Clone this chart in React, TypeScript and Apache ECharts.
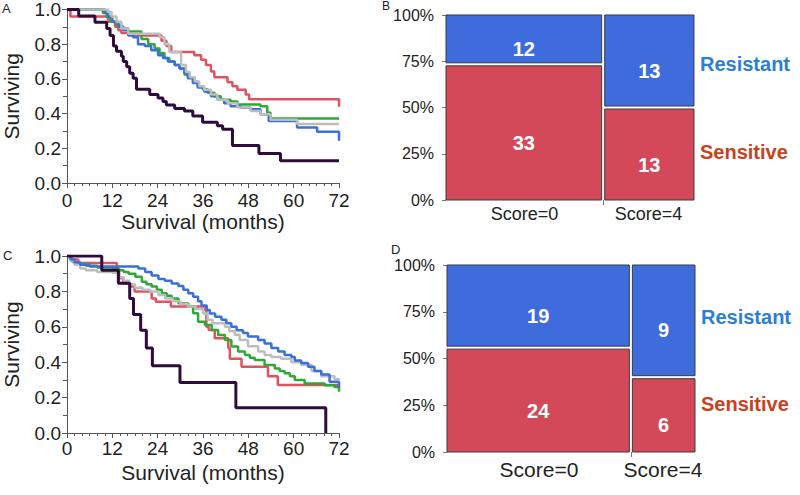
import React, { useEffect, useRef } from "react";
import * as echarts from "echarts";

const FONT = "Liberation Sans, Arial, Helvetica, sans-serif";

// ---------- Kaplan-Meier data: [months, surviving] ----------
const kmA_red: number[][] = [[0,1],[0.9,0.96],[10.9,0.93],[12.7,0.9],[13.6,0.88],[14.4,0.865],[16.2,0.855],[17.1,0.85],[25,0.82],[26.3,0.79],[27.6,0.755],[33.7,0.737],[35.5,0.71],[36.8,0.68],[38.1,0.642],[39,0.61],[42.5,0.58],[43.8,0.557],[45.1,0.538],[47.3,0.51],[48.2,0.483],[72,0.44]];
const kmA_green: number[][] = [[0,1],[9.5,0.98],[10.5,0.955],[11.5,0.93],[13,0.91],[14.5,0.89],[16.2,0.873],[19.7,0.83],[21.5,0.8],[23.2,0.775],[24.5,0.75],[25.8,0.72],[27.1,0.7],[28.5,0.68],[29.8,0.66],[31.1,0.625],[32,0.61],[33.7,0.585],[34.6,0.557],[35.9,0.54],[37.2,0.52],[39,0.5],[40.7,0.48],[43.3,0.47],[45.1,0.453],[51.2,0.443],[53,0.405],[53.9,0.372],[72,0.372]];
const kmA_blue: number[][] = [[0,1],[10.1,0.98],[10.9,0.96],[12,0.93],[13.6,0.9],[14.9,0.88],[16.2,0.85],[17.5,0.84],[18.8,0.8],[20.6,0.79],[22.3,0.765],[24.1,0.737],[25.4,0.72],[26.7,0.7],[28.5,0.68],[29.8,0.66],[31.1,0.633],[32,0.604],[33.3,0.576],[34.6,0.55],[36.3,0.528],[38.1,0.5],[39.8,0.48],[41.6,0.46],[43.3,0.443],[45.9,0.434],[48.6,0.425],[51.2,0.396],[53.4,0.358],[60.9,0.32],[66.2,0.295],[72,0.244]];
const kmA_gray: number[][] = [[0,1],[10.9,0.985],[11.8,0.96],[13.1,0.93],[14.4,0.89],[16.2,0.86],[24.5,0.84],[25.8,0.8],[27.1,0.755],[30.2,0.68],[31.5,0.64],[32.5,0.61],[33.8,0.585],[35,0.557],[36.3,0.538],[38.1,0.51],[39.8,0.48],[42.5,0.46],[45.1,0.435],[48.6,0.415],[51.2,0.396],[53.9,0.365],[60.9,0.34],[72,0.34]];
const kmA_purple: number[][] = [[0,1],[3.1,0.963],[7.4,0.926],[10.5,0.89],[11.4,0.85],[12.3,0.79],[13.1,0.76],[14.4,0.73],[14.9,0.7],[15.8,0.67],[16.6,0.633],[17.5,0.604],[18.4,0.54],[21.9,0.51],[24.1,0.49],[25.4,0.47],[26.3,0.45],[28.5,0.43],[31.1,0.415],[33.3,0.386],[35.9,0.35],[39.8,0.33],[41.2,0.31],[43.8,0.216],[50.8,0.17],[56.5,0.128],[72,0.128]];

const kmC_red: number[][] = [[0,1],[1.2,0.98],[3,0.96],[13.2,0.93],[13.8,0.875],[14.9,0.845],[16.6,0.827],[17.9,0.8],[22.4,0.76],[23.5,0.742],[27.5,0.714],[36.5,0.695],[36.9,0.6],[37.5,0.582],[39.1,0.535],[42.7,0.48],[43.1,0.42],[46.2,0.375],[53.2,0.32],[55.8,0.271],[72,0.271]];
const kmC_green: number[][] = [[0,1],[0.8,0.98],[1.5,0.965],[3,0.955],[5,0.945],[8,0.935],[12,0.93],[13.6,0.92],[15,0.91],[16.3,0.9],[18.1,0.883],[19.8,0.855],[21,0.84],[22.4,0.827],[23.8,0.81],[25.1,0.79],[26.4,0.775],[27.7,0.76],[29.5,0.733],[32.1,0.714],[33.4,0.676],[34.7,0.629],[36.5,0.61],[38.3,0.582],[40,0.554],[41.8,0.525],[43.5,0.488],[45.3,0.46],[47.1,0.44],[48.4,0.425],[49.7,0.412],[52.3,0.384],[55,0.365],[56.3,0.35],[57.6,0.337],[59,0.32],[60.3,0.3],[62.9,0.28],[68.2,0.27],[70.8,0.26],[72,0.233]];
const kmC_blue: number[][] = [[0,1],[1,0.98],[2,0.965],[3.5,0.95],[6,0.94],[18.9,0.93],[20.7,0.91],[22.4,0.89],[24.2,0.87],[25.9,0.86],[27.7,0.845],[29.5,0.83],[30.8,0.81],[32.1,0.79],[33.4,0.77],[34.7,0.745],[35.6,0.72],[37,0.695],[37.8,0.675],[39.2,0.657],[40.9,0.64],[42.2,0.62],[43.5,0.6],[44.9,0.58],[46.6,0.565],[47.9,0.545],[50.6,0.525],[52.3,0.505],[54.1,0.48],[55.9,0.46],[57.6,0.44],[59.4,0.43],[60.3,0.41],[62,0.395],[63.8,0.375],[65.5,0.35],[67.3,0.33],[69.5,0.29],[72,0.255]];
const kmC_gray: number[][] = [[0,1],[1,0.97],[2,0.95],[3.5,0.93],[5,0.92],[8,0.91],[12,0.905],[13.5,0.88],[15,0.86],[16.5,0.84],[18,0.82],[20,0.81],[22,0.8],[24.2,0.78],[26,0.76],[28,0.745],[30,0.73],[32,0.715],[34,0.7],[36,0.675],[37.2,0.64],[38.5,0.62],[41.8,0.6],[43,0.575],[44.4,0.555],[45.7,0.525],[47.9,0.49],[50.6,0.46],[52.3,0.44],[54.1,0.43],[56.7,0.42],[59.4,0.4],[62,0.385],[64.7,0.35],[67.3,0.32],[70.8,0.305],[72,0.3]];
const kmC_purple: number[][] = [[0,1],[9.2,0.92],[13.6,0.846],[16.6,0.76],[17.6,0.67],[19.5,0.58],[21,0.48],[22.6,0.38],[29.9,0.286],[44.7,0.143],[68.5,0]];

// ---------- Mosaic data ----------
const scoreLabels = ["Score=0", "Score=4"];
const resistantB = [12, 13];
const sensitiveB = [33, 13];
const resistantD = [19, 9];
const sensitiveD = [24, 6];

const COL = {
  red: "#e0525f",
  green: "#2ea836",
  blue: "#3b6fd9",
  gray: "#bdbdbd",
  purple: "#2e0b3c",
};
const BAR_BLUE = "#3e6cdc";
const BAR_RED = "#d4495a";

function mosaicData(res: number[], sen: number[]) {
  const totals = res.map((r, i) => r + sen[i]);
  const grand = totals.reduce((a, b) => a + b, 0);
  const items: number[][] = [];
  let cum = 0;
  const centers: number[] = [];
  const bounds: number[] = [];
  totals.forEach((t, i) => {
    const x0 = cum / grand;
    const x1 = (cum + t) / grand;
    const f = sen[i] / t;
    items.push([x0, x1, 0, f, sen[i], 0, i, totals.length]);
    items.push([x0, x1, f, 1, res[i], 1, i, totals.length]);
    centers.push((x0 + x1) / 2);
    if (i < totals.length - 1) bounds.push(x1);
    cum += t;
  });
  return { items, centers, bounds };
}

function kmSeries(data: number[][], color: string, idx: number, width = 2.5) {
  return {
    type: "line",
    step: "end",
    data,
    xAxisIndex: idx,
    yAxisIndex: idx,
    showSymbol: false,
    symbol: "none",
    lineStyle: { color, width },
    z: 3,
  };
}

function kmXAxis(idx: number, margin: number, nameGap: number) {
  return {
    gridIndex: idx,
    type: "value",
    min: 0,
    max: 72,
    interval: 12,
    axisLine: { show: true, lineStyle: { color: "#555", width: 1 } },
    axisTick: { show: true, length: 5, lineStyle: { color: "#555" } },
    minorTick: { show: true, splitNumber: 6, length: 3, lineStyle: { color: "#555" } },
    splitLine: { show: false },
    axisLabel: { fontSize: 19, color: "#222", margin, fontFamily: FONT },
    name: "Survival (months)",
    nameLocation: "middle",
    nameGap,
    nameTextStyle: { fontSize: 21, color: "#222", fontFamily: FONT },
  };
}

function kmYAxis(idx: number) {
  return {
    gridIndex: idx,
    type: "value",
    min: 0,
    max: 1,
    interval: 0.2,
    axisLine: { show: true, lineStyle: { color: "#555", width: 1 } },
    axisTick: { show: true, length: 5, lineStyle: { color: "#555" } },
    minorTick: { show: true, splitNumber: 2, length: 4, lineStyle: { color: "#555" } },
    splitLine: { show: false },
    axisLabel: { fontSize: 19, color: "#222", margin: 6, fontFamily: FONT, formatter: (v: number) => v.toFixed(1) },
    name: "Surviving",
    nameLocation: "middle",
    nameGap: 45,
    nameRotate: 90,
    nameTextStyle: { fontSize: 21, color: "#222", fontFamily: FONT },
  };
}

function mosaicXAxis(idx: number, centers: number[], bounds: number[], fontSize: number, margin: number) {
  return {
    gridIndex: idx,
    type: "value",
    min: 0,
    max: 1,
    axisLine: { show: false },
    axisTick: { show: true, length: 5, customValues: bounds, lineStyle: { color: "#777" } },
    splitLine: { show: false },
    axisLabel: {
      customValues: centers,
      fontSize,
      color: "#222",
      margin,
      fontFamily: FONT,
      formatter: (v: number) => {
        let best = 0;
        centers.forEach((c, i) => {
          if (Math.abs(c - v) < Math.abs(centers[best] - v)) best = i;
        });
        return scoreLabels[best];
      },
    },
  };
}

function mosaicYAxis(idx: number) {
  return {
    gridIndex: idx,
    type: "value",
    min: 0,
    max: 1,
    interval: 0.25,
    offset: 3,
    axisLine: { show: false },
    axisTick: { show: true, length: 4, lineStyle: { color: "#777" } },
    splitLine: { show: false },
    axisLabel: { fontSize: 16, lineHeight: 10, color: "#222", margin: 9, fontFamily: FONT, formatter: (v: number) => Math.round(v * 100) + "%" },
  };
}

function mosaicSeries(items: number[][], idx: number) {
  return {
    type: "custom",
    xAxisIndex: idx,
    yAxisIndex: idx,
    data: items,
    clip: false,
    renderItem: (params: any, api: any) => {
      const x0 = api.value(0), x1 = api.value(1), y0 = api.value(2), y1 = api.value(3);
      const count = api.value(4), kind = api.value(5), col = api.value(6), ncol = api.value(7);
      const p0 = api.coord([x0, y0]);
      const p1 = api.coord([x1, y1]);
      let left = p0[0], right = p1[0], bottom = p0[1], top = p1[1];
      if (col > 0) left += 1.5;
      if (col < ncol - 1) right -= 1.5;
      if (kind === 0) top += 1.5; else bottom -= 1.5;
      return {
        type: "group",
        children: [
          {
            type: "rect",
            shape: { x: left, y: top, width: right - left, height: bottom - top },
            style: { fill: kind === 0 ? BAR_RED : BAR_BLUE, stroke: "#3a3a3a", lineWidth: 1 },
          },
          {
            type: "text",
            style: {
              text: String(count),
              x: (left + right) / 2,
              y: (top + bottom) / 2,
              align: "center",
              verticalAlign: "top",
              fill: "#ffffff",
              fontSize: 20,
              fontWeight: "bold",
              fontFamily: FONT,
            },
          },
        ],
      };
    },
  };
}

export default function App() {
  const ref = useRef<HTMLDivElement>(null);
  useEffect(() => {
    document.body.style.margin = "0";
    if (!ref.current) return;
    const chart = echarts.init(ref.current, undefined, { renderer: "svg" });
    const mB = mosaicData(resistantB, sensitiveB);
    const mD = mosaicData(resistantD, sensitiveD);
    const letter = (t: string, x: number, y: number, size = 13) => ({
      type: "text",
      left: x,
      top: y,
      style: { text: t, fontSize: size, fill: "#222", fontFamily: FONT },
    });
    const side = (t: string, x: number, y: number, color: string) => ({
      type: "text",
      x,
      y,
      style: { text: t, fontSize: 20, fontWeight: "bold", fill: color, fontFamily: FONT, verticalAlign: "middle", align: "left" },
    });
    chart.setOption({
      animation: false,
      backgroundColor: "#ffffff",
      textStyle: { fontFamily: FONT },
      grid: [
        { left: 65, top: 7, width: 274, height: 176 },
        { left: 446, top: 15, width: 248, height: 185 },
        { left: 65, top: 256, width: 274, height: 177 },
        { left: 447, top: 265, width: 248, height: 187 },
      ],
      xAxis: [
        kmXAxis(0, 8, 25),
        mosaicXAxis(1, mB.centers, mB.bounds, 18, 5),
        kmXAxis(2, 6, 29),
        mosaicXAxis(3, mD.centers, mD.bounds, 21, 7),
      ],
      yAxis: [kmYAxis(0), mosaicYAxis(1), kmYAxis(2), mosaicYAxis(3)],
      series: [
        kmSeries(kmA_red, COL.red, 0),
        kmSeries(kmA_green, COL.green, 0),
        kmSeries(kmA_blue, COL.blue, 0),
        kmSeries(kmA_gray, COL.gray, 0),
        kmSeries(kmA_purple, COL.purple, 0, 3),
        mosaicSeries(mB.items, 1),
        kmSeries(kmC_red, COL.red, 2),
        kmSeries(kmC_green, COL.green, 2),
        kmSeries(kmC_gray, COL.gray, 2),
        kmSeries(kmC_blue, COL.blue, 2),
        kmSeries(kmC_purple, COL.purple, 2, 3),
        mosaicSeries(mD.items, 3),
      ],
      graphic: [
        letter("A", 2, 2),
        letter("B", 382, 0, 12),
        letter("C", 3, 249),
        letter("D", 391, 243),
        side("Resistant", 700, 64, "#2b7fd3"),
        side("Sensitive", 700, 152, "#c8421c"),
        side("Resistant", 701, 317, "#2b7fd3"),
        side("Sensitive", 701, 404, "#c8421c"),
      ],
    });
    return () => chart.dispose();
  }, []);
  return <div ref={ref} style={{ width: 800, height: 495 }} />;
}
